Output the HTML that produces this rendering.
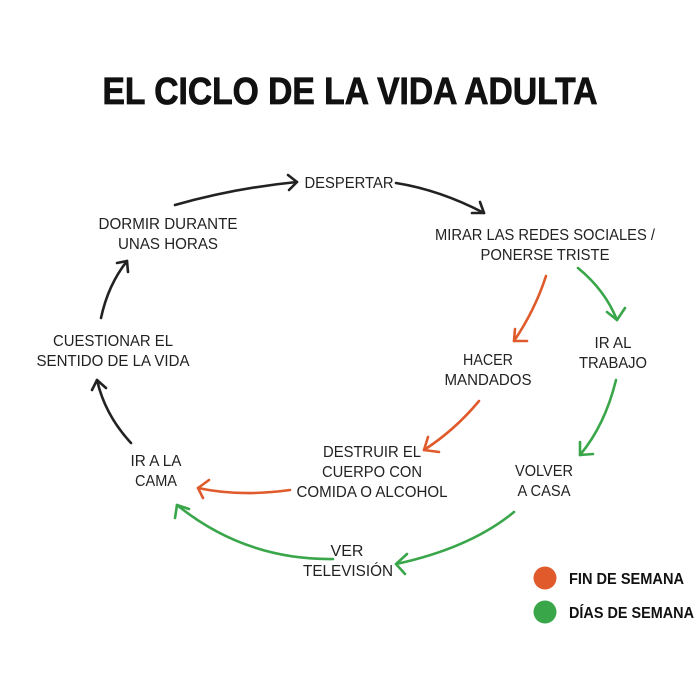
<!DOCTYPE html>
<html><head><meta charset="utf-8"><style>
html,body{margin:0;padding:0;background:#fff;}
svg{display:block}
text{font-family:"Liberation Sans",sans-serif;fill:#222;font-size:16px;text-anchor:middle}
.t{font-family:"Liberation Sans",sans-serif;font-weight:bold;font-size:38px;fill:#111;stroke:#111;stroke-width:0.8}
.l{font-weight:bold;font-size:16px;text-anchor:start;fill:#111}
path{fill:none;stroke-width:2.6;stroke-linecap:round;stroke-linejoin:round}
.k{stroke:#222}.o{stroke:#e05a2b}.g{stroke:#3aa64a}
</style></head><body>
<svg width="700" height="700" viewBox="0 0 700 700" xmlns="http://www.w3.org/2000/svg">
<text class="t" x="350" y="104" textLength="495" lengthAdjust="spacingAndGlyphs">EL CICLO DE LA VIDA ADULTA</text>

<text x="349" y="188" textLength="89" lengthAdjust="spacingAndGlyphs">DESPERTAR</text>
<text x="168" y="229" textLength="139" lengthAdjust="spacingAndGlyphs">DORMIR DURANTE</text>
<text x="168" y="249" textLength="100" lengthAdjust="spacingAndGlyphs">UNAS HORAS</text>
<text x="545" y="240" textLength="220" lengthAdjust="spacingAndGlyphs">MIRAR LAS REDES SOCIALES /</text>
<text x="545" y="260" textLength="129" lengthAdjust="spacingAndGlyphs">PONERSE TRISTE</text>
<text x="113" y="346" textLength="120" lengthAdjust="spacingAndGlyphs">CUESTIONAR EL</text>
<text x="113" y="366" textLength="153" lengthAdjust="spacingAndGlyphs">SENTIDO DE LA VIDA</text>
<text x="488" y="365" textLength="50" lengthAdjust="spacingAndGlyphs">HACER</text>
<text x="488" y="385" textLength="87" lengthAdjust="spacingAndGlyphs">MANDADOS</text>
<text x="613" y="348" textLength="37" lengthAdjust="spacingAndGlyphs">IR AL</text>
<text x="613" y="368" textLength="68" lengthAdjust="spacingAndGlyphs">TRABAJO</text>
<text x="156" y="466" textLength="51" lengthAdjust="spacingAndGlyphs">IR A LA</text>
<text x="156" y="486" textLength="42" lengthAdjust="spacingAndGlyphs">CAMA</text>
<text x="372" y="457" textLength="98" lengthAdjust="spacingAndGlyphs">DESTRUIR EL</text>
<text x="372" y="477" textLength="100" lengthAdjust="spacingAndGlyphs">CUERPO CON</text>
<text x="372" y="497" textLength="151" lengthAdjust="spacingAndGlyphs">COMIDA O ALCOHOL</text>
<text x="544" y="476" textLength="58" lengthAdjust="spacingAndGlyphs">VOLVER</text>
<text x="544" y="496" textLength="53" lengthAdjust="spacingAndGlyphs">A CASA</text>
<text x="347" y="556">VER</text>
<text x="348" y="576" textLength="90" lengthAdjust="spacingAndGlyphs">TELEVISIÓN</text>

<!-- black -->
<path class="k" d="M175 205 Q235 188 297 182"/><path class="k" d="M288 175 L297 182 L289 190"/>
<path class="k" d="M396 183 Q440 190 484 213"/><path class="k" d="M472 213 L484 213 L480 202"/>
<path class="k" d="M131 443 Q105 415 97 380"/><path class="k" d="M92 390 L97 380 L106 388"/>
<path class="k" d="M101 318 Q108 285 127 261"/><path class="k" d="M117 263 L127 261 L128 272"/>
<!-- orange -->
<path class="o" d="M546 276 Q535 310 514 341"/><path class="o" d="M515 329 L514 341 L527 341"/>
<path class="o" d="M479 401 Q455 430 424 450"/><path class="o" d="M428 437 L424 450 L439 452"/>
<path class="o" d="M290 490 Q240 497 198 488"/><path class="o" d="M209 480 L198 488 L203 498"/>
<!-- green -->
<path class="g" d="M578 268 Q605 290 617 320"/><path class="g" d="M607 312 L617 320 L625 308"/>
<path class="g" d="M616 380 Q605 425 580 455"/><path class="g" d="M580 442 L580 455 L593 454"/>
<path class="g" d="M514 512 Q470 548 396 564"/><path class="g" d="M407 554 L396 564 L405 574"/>
<path class="g" d="M333 559 Q245 560 177 505"/><path class="g" d="M175 518 L177 505 L189 509"/>

<circle cx="545" cy="578" r="11.5" fill="#e05a2b"/>
<circle cx="545" cy="612" r="11.5" fill="#3aa64a"/>
<text class="l" x="569" y="584" textLength="115" lengthAdjust="spacingAndGlyphs">FIN DE SEMANA</text>
<text class="l" x="569" y="618" textLength="125" lengthAdjust="spacingAndGlyphs">DÍAS DE SEMANA</text>
</svg>
</body></html>
